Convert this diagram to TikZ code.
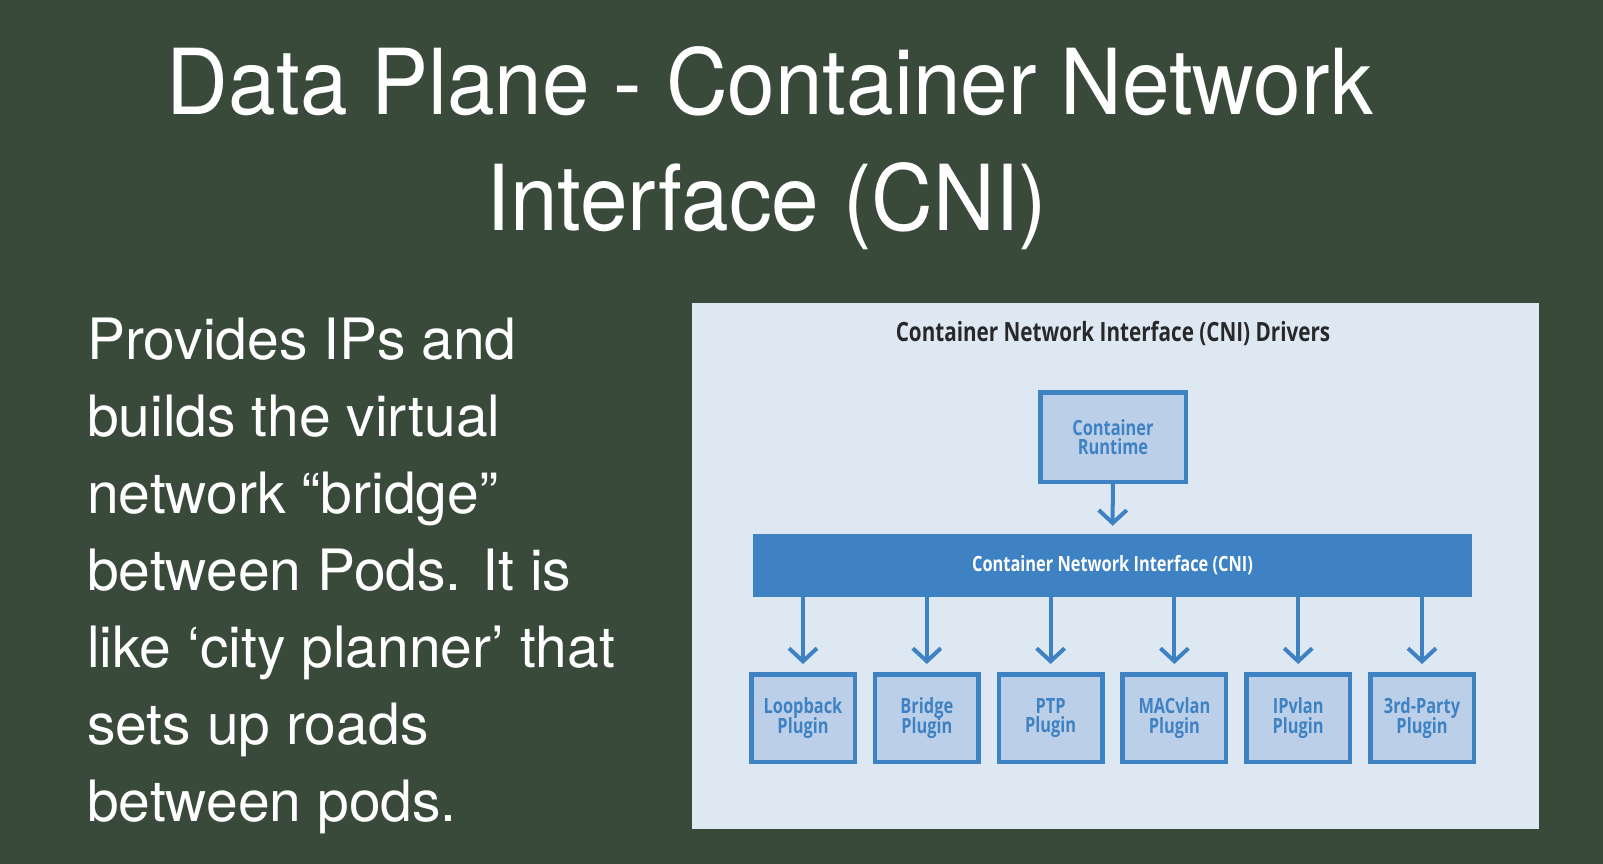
\documentclass[tikz,border=0pt]{standalone}
\usepackage{fontspec}
\setmainfont{TeX Gyre Heros}
\newfontfamily\titlefont[FakeStretch=0.94]{TeX Gyre Heros}
\newfontfamily\cnifont[FakeStretch=0.78]{Open Sans}
\newcommand{\boxfont}{\cnifont\bfseries\fontsize{21}{19.5}\selectfont\lineskiplimit=-10pt\relax}
\usetikzlibrary{arrows.meta}

\definecolor{slidegreen}{RGB}{58,74,58}
\definecolor{panelblue}{RGB}{222,232,242}
\definecolor{cniblue}{RGB}{62,130,196}
\definecolor{boxblue}{RGB}{188,207,232}
\definecolor{headgray}{RGB}{40,40,40}

\begin{document}
\begin{tikzpicture}[x=1pt,y=-1pt]
        % Define styles
        \tikzset{
            runtime/.style={rectangle, draw=cniblue, fill=boxblue, line width=4.5pt, minimum width=145.5pt, minimum height=89.5pt, inner sep=0pt, align=center, text=cniblue, font=\boxfont},
            plugin/.style={runtime, minimum width=103.5pt, minimum height=87.5pt},
            iface/.style={rectangle, fill=cniblue, minimum width=719pt, minimum height=63pt, inner sep=0pt, text=white, font=\boxfont},
            arrow/.style={-{Straight Barb[length=13pt,width=28pt]}, draw=cniblue, line width=4pt, shorten >=8pt}
        }

        % Slide
        \useasboundingbox (0,0) rectangle (1603,864);
        \fill[slidegreen] (0,0) rectangle (1603,864);
        \node[anchor=base, text=white, font=\titlefont\fontsize{91}{115}\selectfont] (title_line_1) at (770,115) {Data Plane - Container Network};
        \node[anchor=base, text=white, font=\titlefont\fontsize{91}{115}\selectfont] (title_line_2) at (767,230) {Interface (CNI)};
        \node[anchor=base west, align=left, inner sep=0pt, text=white, font=\fontsize{57}{77}\selectfont] (body_text) at (87,821) {Provides IPs and\\builds the virtual\\network “bridge”\\between Pods. It is\\like ‘city planner’ that\\sets up roads\\between pods.};

        % Panel
        \node[rectangle, fill=panelblue, minimum width=847pt, minimum height=526pt, inner sep=0pt] (panel) at (1115.5,566) {};
        \node[text=headgray, font=\cnifont\bfseries\fontsize{26.5}{26.5}\selectfont] (panel_title) at (1113,333) {Container Network Interface (CNI) Drivers};

        % Nodes
        \node[runtime] (runtime_node) at (1113,437) {Container\\Runtime};
        \node[iface] (cni_node) at (1112.5,565.5) {Container Network Interface (CNI)};
        \node[plugin] (plugin_node_1) at (803,718) {Loopback\\Plugin};
        \node[plugin] (plugin_node_2) at (926.8,718) {Bridge\\Plugin};
        \node[plugin] (plugin_node_3) at (1050.6,718) {PTP\\Plugin};
        \node[plugin] (plugin_node_4) at (1174.4,718) {MACvlan\\Plugin};
        \node[plugin] (plugin_node_5) at (1298.2,718) {IPvlan\\Plugin};
        \node[plugin] (plugin_node_6) at (1422,718) {3rd-Party\\Plugin};

        % Arrows
        \draw[arrow] (runtime_node) -- (cni_node);
        \draw[arrow] (cni_node.south -| plugin_node_1) -- (plugin_node_1);
        \draw[arrow] (cni_node.south -| plugin_node_2) -- (plugin_node_2);
        \draw[arrow] (cni_node.south -| plugin_node_3) -- (plugin_node_3);
        \draw[arrow] (cni_node.south -| plugin_node_4) -- (plugin_node_4);
        \draw[arrow] (cni_node.south -| plugin_node_5) -- (plugin_node_5);
        \draw[arrow] (cni_node.south -| plugin_node_6) -- (plugin_node_6);
    \end{tikzpicture}
\end{document}
